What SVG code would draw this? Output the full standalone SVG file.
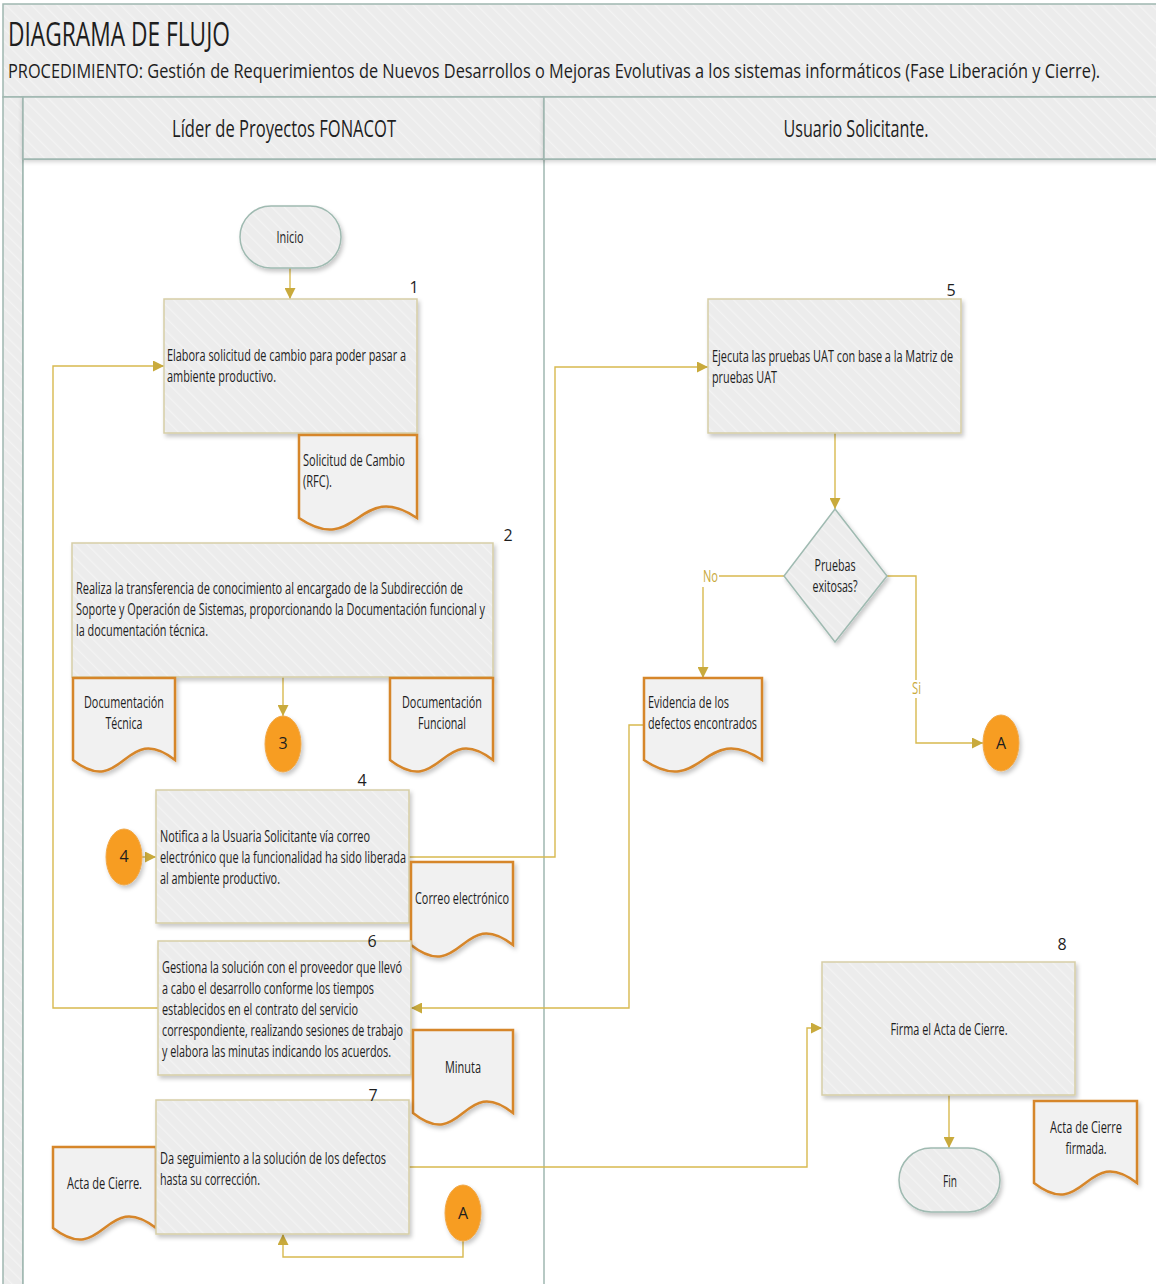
<svg xmlns="http://www.w3.org/2000/svg" width="1156" height="1284" viewBox="0 0 1156 1284">
<defs>
  <pattern id="hatch" width="9" height="9" patternUnits="userSpaceOnUse" patternTransform="rotate(-45)">
    <rect width="9" height="9" fill="#ececec"/>
    <rect width="1.4" height="9" fill="#f3f3f3"/>
  </pattern>
  <filter id="sh" x="-10%" y="-10%" width="130%" height="130%">
    <feDropShadow dx="2" dy="3" stdDeviation="2" flood-color="#000" flood-opacity="0.22"/>
  </filter>
  <filter id="shh" x="-5%" y="-20%" width="110%" height="150%">
    <feDropShadow dx="0" dy="2" stdDeviation="2" flood-color="#000" flood-opacity="0.18"/>
  </filter>
  <marker id="arr" viewBox="0 0 10 10" refX="10" refY="5" markerWidth="11" markerHeight="11" markerUnits="userSpaceOnUse" orient="auto">
    <path d="M0,0 L10,5 L0,10 z" fill="#c9aa3c"/>
  </marker>
  <style>
    text { font-family: "Open Sans", "Noto Sans", "Liberation Sans", sans-serif; fill: #1e1e1e; }
    .t { font-size: 16px; }
    .c { text-anchor: middle; }
    .num { font-size: 16px; text-anchor: middle; }
    .lane { fill: url(#hatch); stroke: #9fb7b0; stroke-width: 1.5; }
    .proc { fill: url(#hatch); stroke: #d6cea6; stroke-width: 1.5; filter: url(#sh); }
    .term { fill: url(#hatch); stroke: #9fbab1; stroke-width: 1.5; filter: url(#sh); }
    .doc { fill: #f1f1f1; stroke: #d6862b; stroke-width: 2.5; filter: url(#sh); }
    .circ { fill: #f79d24; stroke: #f0a848; stroke-width: 1; filter: url(#sh); }
    .con { fill: none; stroke: #d8b94f; stroke-width: 1.4; }
    .lbl { font-size: 16px; fill: #c9aa3c; }
  </style>
</defs>

<!-- Background / pool -->
<rect x="0" y="0" width="1156" height="1284" fill="#ffffff"/>
<g id="header">
  <rect class="lane" x="3" y="4" width="1160" height="93"/>
  <text x="8" y="46" font-size="32" textLength="222" lengthAdjust="spacingAndGlyphs">DIAGRAMA DE FLUJO</text>
  <text x="8" y="78" font-size="20" textLength="1092" lengthAdjust="spacingAndGlyphs">PROCEDIMIENTO: Gestión de Requerimientos de Nuevos Desarrollos o Mejoras Evolutivas a los sistemas informáticos (Fase Liberación y Cierre).</text>
</g>
<g id="lanes">
  <rect class="lane" x="3" y="97" width="20" height="1200"/>
  <rect x="23" y="159" width="1140" height="1140" fill="#ffffff" stroke="#9fb7b0" stroke-width="1.5"/>
  <line x1="544" y1="159" x2="544" y2="1290" stroke="#9fb7b0" stroke-width="1.5"/>
  <rect class="lane" x="23" y="97" width="521" height="62" filter="url(#shh)"/>
  <rect class="lane" x="544" y="97" width="619" height="62" filter="url(#shh)"/>
  <text x="284" y="137" font-size="24" class="c" textLength="224" lengthAdjust="spacingAndGlyphs">Líder de Proyectos FONACOT</text>
  <text x="856" y="137" font-size="24" class="c" textLength="145" lengthAdjust="spacingAndGlyphs">Usuario Solicitante.</text>
</g>

<!-- Connectors -->
<g id="connectors">
  <path class="con" d="M290,268 V299" marker-end="url(#arr)"/>
  <path class="con" d="M283,677 V716" marker-end="url(#arr)"/>
  <path class="con" d="M142,857 H156" marker-end="url(#arr)"/>
  <path class="con" d="M409,857 H555 V367 H708" marker-end="url(#arr)"/>
  <path class="con" d="M835,433 V509" marker-end="url(#arr)"/>
  <path class="con" d="M784,576 H719"/>
  <path class="con" d="M703,587 V678" marker-end="url(#arr)"/>
  <path class="con" d="M887,576 H916 V680"/>
  <path class="con" d="M916,698 V743 H983" marker-end="url(#arr)"/>
  <path class="con" d="M644,725 H629 V1008 H411" marker-end="url(#arr)"/>
  <path class="con" d="M158,1008 H53 V366 H164" marker-end="url(#arr)"/>
  <path class="con" d="M463,1241 V1257 H283 V1234" marker-end="url(#arr)"/>
  <path class="con" d="M409,1167 H807 V1028 H822" marker-end="url(#arr)"/>
  <path class="con" d="M949,1095 V1148" marker-end="url(#arr)"/>
  <text class="lbl" x="703" y="582" textLength="15" lengthAdjust="spacingAndGlyphs">No</text>
  <text class="lbl" x="912" y="694" textLength="9" lengthAdjust="spacingAndGlyphs">Si</text>
</g>

<!-- Nodes -->
<g id="inicio">
  <rect class="term" x="240" y="206" width="101" height="62" rx="31"/>
  <text class="t c" x="290" y="243" textLength="27" lengthAdjust="spacingAndGlyphs">Inicio</text>
</g>

<g id="paso1">
  <rect class="proc" x="164" y="299" width="253" height="134"/>
  <text class="num" x="414" y="293">1</text>
  <text class="t" x="167" y="361" textLength="239" lengthAdjust="spacingAndGlyphs">Elabora solicitud de cambio para poder pasar a</text>
  <text class="t" x="167" y="382" textLength="109" lengthAdjust="spacingAndGlyphs">ambiente productivo.</text>
</g>

<g id="doc-rfc">
  <path class="doc" d="M299,435 H417 V518 C358,478 358,558 299,518 Z"/>
  <text class="t" x="303" y="466" textLength="102" lengthAdjust="spacingAndGlyphs">Solicitud de Cambio</text>
  <text class="t" x="303" y="487" textLength="29" lengthAdjust="spacingAndGlyphs">(RFC).</text>
</g>

<g id="paso2">
  <rect class="proc" x="72" y="543" width="421" height="134"/>
  <text class="num" x="508" y="541">2</text>
  <text class="t" x="76" y="594" textLength="387" lengthAdjust="spacingAndGlyphs">Realiza la transferencia de conocimiento al encargado de la Subdirección de</text>
  <text class="t" x="76" y="615" textLength="409" lengthAdjust="spacingAndGlyphs">Soporte y Operación de Sistemas, proporcionando la Documentación funcional y</text>
  <text class="t" x="76" y="636" textLength="132" lengthAdjust="spacingAndGlyphs">la documentación técnica.</text>
</g>

<g id="doc-tecnica">
  <path class="doc" d="M73,678 H175 V760 C124,720 124,800 73,760 Z"/>
  <text class="t c" x="124" y="708" textLength="80" lengthAdjust="spacingAndGlyphs">Documentación</text>
  <text class="t c" x="124" y="729" textLength="37" lengthAdjust="spacingAndGlyphs">Técnica</text>
</g>

<g id="doc-funcional">
  <path class="doc" d="M390,678 H493 V760 C441.5,720 441.5,800 390,760 Z"/>
  <text class="t c" x="442" y="708" textLength="80" lengthAdjust="spacingAndGlyphs">Documentación</text>
  <text class="t c" x="442" y="729" textLength="48" lengthAdjust="spacingAndGlyphs">Funcional</text>
</g>

<g id="conector-3">
  <ellipse class="circ" cx="283" cy="744" rx="18" ry="28"/>
  <text class="t c" x="283" y="749">3</text>
</g>

<g id="conector-4">
  <ellipse class="circ" cx="124" cy="857" rx="18" ry="28"/>
  <text class="t c" x="124" y="862">4</text>
</g>

<g id="paso4">
  <rect class="proc" x="156" y="790" width="253" height="133"/>
  <text class="num" x="362" y="786">4</text>
  <text class="t" x="160" y="842" textLength="210" lengthAdjust="spacingAndGlyphs">Notifica a la Usuaria Solicitante vía correo</text>
  <text class="t" x="160" y="863" textLength="246" lengthAdjust="spacingAndGlyphs">electrónico que la funcionalidad ha sido liberada</text>
  <text class="t" x="160" y="884" textLength="120" lengthAdjust="spacingAndGlyphs">al ambiente productivo.</text>
</g>

<g id="doc-correo">
  <path class="doc" d="M411,862 H513 V945 C462,905 462,985 411,945 Z"/>
  <text class="t" x="415" y="904" textLength="94" lengthAdjust="spacingAndGlyphs">Correo electrónico</text>
</g>

<g id="paso5">
  <rect class="proc" x="708" y="299" width="253" height="134"/>
  <text class="num" x="951" y="296">5</text>
  <text class="t" x="712" y="362" textLength="241" lengthAdjust="spacingAndGlyphs">Ejecuta las pruebas UAT con base a la Matriz de</text>
  <text class="t" x="712" y="383" textLength="65" lengthAdjust="spacingAndGlyphs">pruebas UAT</text>
</g>

<g id="decision">
  <polygon class="term" points="835,509 887,576 835,642 784,576"/>
  <text class="t c" x="835" y="571" textLength="41" lengthAdjust="spacingAndGlyphs">Pruebas</text>
  <text class="t c" x="835" y="592" textLength="45" lengthAdjust="spacingAndGlyphs">exitosas?</text>
</g>

<g id="doc-evidencia">
  <path class="doc" d="M644,678 H762 V760 C703,720 703,800 644,760 Z"/>
  <text class="t" x="648" y="708" textLength="81" lengthAdjust="spacingAndGlyphs">Evidencia de los</text>
  <text class="t" x="648" y="729" textLength="109" lengthAdjust="spacingAndGlyphs">defectos encontrados</text>
</g>

<g id="conector-a1">
  <ellipse class="circ" cx="1001" cy="743" rx="18" ry="28"/>
  <text class="t c" x="1001" y="749">A</text>
</g>

<g id="paso6">
  <rect class="proc" x="158" y="941" width="253" height="134"/>
  <text class="num" x="372" y="947">6</text>
  <text class="t" x="162" y="973" textLength="240" lengthAdjust="spacingAndGlyphs">Gestiona la solución con el proveedor que llevó</text>
  <text class="t" x="162" y="994" textLength="212" lengthAdjust="spacingAndGlyphs">a cabo el desarrollo conforme los tiempos</text>
  <text class="t" x="162" y="1015" textLength="196" lengthAdjust="spacingAndGlyphs">establecidos en el contrato del servicio</text>
  <text class="t" x="162" y="1036" textLength="241" lengthAdjust="spacingAndGlyphs">correspondiente, realizando sesiones de trabajo</text>
  <text class="t" x="162" y="1057" textLength="229" lengthAdjust="spacingAndGlyphs">y elabora las minutas indicando los acuerdos.</text>
</g>

<g id="doc-minuta">
  <path class="doc" d="M413,1030 H513 V1113 C463,1073 463,1153 413,1113 Z"/>
  <text class="t c" x="463" y="1073" textLength="36" lengthAdjust="spacingAndGlyphs">Minuta</text>
</g>

<g id="doc-acta">
  <path class="doc" d="M53,1147 H156 V1228 C104.5,1188 104.5,1268 53,1228 Z"/>
  <text class="t c" x="104.5" y="1189" textLength="75" lengthAdjust="spacingAndGlyphs">Acta de Cierre.</text>
</g>

<g id="paso7">
  <rect class="proc" x="156" y="1100" width="253" height="134"/>
  <text class="num" x="373" y="1101">7</text>
  <text class="t" x="160" y="1164" textLength="226" lengthAdjust="spacingAndGlyphs">Da seguimiento a la solución de los defectos</text>
  <text class="t" x="160" y="1185" textLength="100" lengthAdjust="spacingAndGlyphs">hasta su corrección.</text>
</g>

<g id="conector-a2">
  <ellipse class="circ" cx="463" cy="1213" rx="18" ry="28"/>
  <text class="t c" x="463" y="1219">A</text>
</g>

<g id="paso8">
  <rect class="proc" x="822" y="962" width="253" height="133"/>
  <text class="num" x="1062" y="950">8</text>
  <text class="t c" x="949" y="1035" textLength="117" lengthAdjust="spacingAndGlyphs">Firma el Acta de Cierre.</text>
</g>

<g id="doc-acta-firmada">
  <path class="doc" d="M1034,1101 H1137 V1183 C1085.5,1143 1085.5,1223 1034,1183 Z"/>
  <text class="t c" x="1086" y="1133" textLength="72" lengthAdjust="spacingAndGlyphs">Acta de Cierre</text>
  <text class="t c" x="1086" y="1154" textLength="41" lengthAdjust="spacingAndGlyphs">firmada.</text>
</g>

<g id="fin">
  <rect class="term" x="899" y="1148" width="101" height="64" rx="32"/>
  <text class="t c" x="950" y="1187" textLength="14" lengthAdjust="spacingAndGlyphs">Fin</text>
</g>
</svg>
